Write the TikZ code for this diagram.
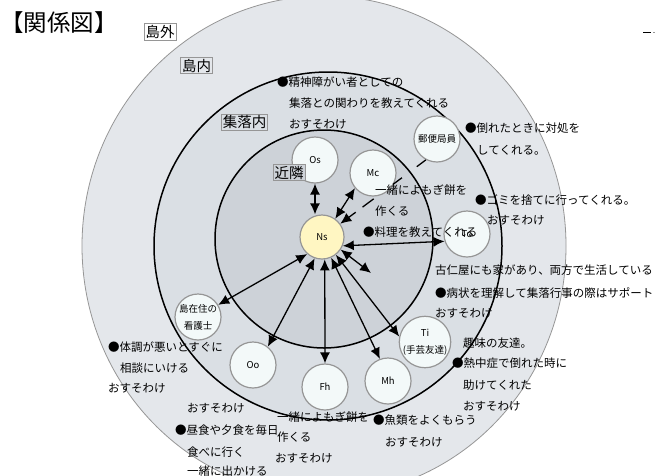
\documentclass[tikz,border=0pt]{standalone}
\usepackage{fontspec}
\setmainfont{Noto Sans CJK JP}
\usetikzlibrary{arrows.meta,calc}
\definecolor{outerc}{RGB}{228,231,235}
\definecolor{midc}{RGB}{218,223,228}
\definecolor{innerc}{RGB}{205,210,216}
\definecolor{nodec}{RGB}{243,249,249}
\definecolor{nsc}{RGB}{255,246,194}
\definecolor{edgec}{RGB}{150,150,150}
\begin{document}
\begin{tikzpicture}[x=1pt,y=-1pt,
  person/.style={circle,draw=edgec,line width=1.2pt,fill=nodec,minimum size=46pt,inner sep=0pt,font=\fontsize{9.5}{17}\selectfont,align=center},
  txt/.style={anchor=west,inner sep=0pt,font=\fontsize{11.5}{14}\selectfont},
  zone/.style={draw=edgec,line width=0.6pt,inner sep=1.5pt,font=\fontsize{14.5}{16}\selectfont},
  rel/.style={line width=1.3pt,{Latex[length=11pt,width=10pt]}-{Latex[length=11pt,width=10pt]}},
  one/.style={line width=1.3pt,-{Latex[length=11pt,width=10pt]}},
  seg/.style={line width=1.3pt}
]
\useasboundingbox (0,0) rectangle (655,475);
\clip (0,0) rectangle (655,475);
\fill[white] (0,0) rectangle (655,475);
% zones
\draw[fill=outerc,draw=edgec,line width=0.8pt] (324,246) ellipse [x radius=242pt, y radius=250pt];
\draw[fill=midc,draw=black,line width=1.5pt] (328,246) circle [radius=174pt];
\draw[fill=innerc,draw=black,line width=1.5pt] (324,239) circle [radius=109pt];
% title
\node[anchor=west,inner sep=0pt,font=\fontsize{23.5}{26}\selectfont] (title) at (0,22.5) {【関係図】};
% people
\node[person,fill=nsc,minimum size=44pt] (ns) at (322,237) {Ns};
\node[person] (os) at (315,160) {Os};
\node[person] (mc) at (373,173) {Mc};
\node[person] (yub) at (437,139) {郵便局員};
\node[person] (to) at (467,234) {To};
\node[person] (kan) at (198,317) {島在住の\\看護士};
\node[person] (oo) at (253,365) {Oo};
\node[person] (fh) at (325,387) {Fh};
\node[person] (mh) at (388,381) {Mh};
\node[person] (ti) at (425,342) {Ti\\(手芸友達)};
\coordinate (free) at (371,273);
% zone labels
\node[zone,fill=white] (zout) at (160,32) {島外};
\node[zone,fill=outerc] (zisl) at (196.5,65.5) {島内};
\node[zone,fill=midc] (zvil) at (244.5,122) {集落内};
\node[zone,fill=innerc] (znb) at (289,172.5) {近隣};
% relations
\draw[rel] (os.south) -- (os.south |- ns.north);
\draw[rel] (mc.220) -- (ns.54);
\draw[rel] (ns.337) -- (to.198);
\draw[rel] (ns.326) -- (free);
\draw[rel] (ns.229) -- (kan.31);
\draw[rel] (ns.251) -- (oo.51);
\draw[rel] (ns.277) -- (fh.north);
\draw[rel] (ns.294) -- (mh.110);
\draw[rel] (ns.308) -- (ti.168);
\draw[seg] (yub.242) -- ($(yub.242)!0.107!(ns.36)$);
\draw[seg] ($(yub.242)!0.28!(ns.36)$) -- ($(yub.242)!0.385!(ns.36)$);
\draw[seg] ($(yub.242)!0.61!(ns.36)$) -- ($(yub.242)!0.74!(ns.36)$);
\draw[one] ($(yub.242)!0.82!(ns.36)$) -- (ns.36);
% texts
\node[txt] (a1) at (277,82) {●精神障がい者としての};
\node[txt] (a2) at (289,103) {集落との関わりを教えてくれる};
\node[txt] (a3) at (289,124) {おすそわけ};
\node[txt] (b1) at (465,128) {●倒れたときに対処を};
\node[txt] (b2) at (477,150) {してくれる。};
\node[txt] (c1) at (375,190) {一緒によもぎ餅を};
\node[txt] (c2) at (375,211) {作くる};
\node[txt] (d1) at (363,232) {●料理を教えてくれる};
\node[txt] (e1) at (475,200) {●ゴミを捨てに行ってくれる。};
\node[txt] (e2) at (487,220) {おすそわけ};
\node[txt] (f1) at (435,270) {古仁屋にも家があり、両方で生活している};
\node[txt] (f2) at (435,293) {●病状を理解して集落行事の際はサポート};
\node[txt] (f3) at (435,313) {おすそわけ};
\node[txt] (g1) at (463,343) {趣味の友達。};
\node[txt] (g2) at (452,363) {●熱中症で倒れた時に};
\node[txt] (g3) at (463,385) {助けてくれた};
\node[txt] (g4) at (463,406) {おすそわけ};
\node[txt] (h1) at (373,420) {●魚類をよくもらう};
\node[txt] (h2) at (385,442) {おすそわけ};
\node[txt] (i1) at (108,347) {●体調が悪いとすぐに};
\node[txt] (i2) at (120,368) {相談にいける};
\node[txt] (i3) at (108,388) {おすそわけ};
\node[txt] (j1) at (187,408) {おすそわけ};
\node[txt] (j2) at (175,430) {●昼食や夕食を毎日};
\node[txt] (j3) at (187,452) {食べに行く};
\node[txt] (j4) at (187,471) {一緒に出かける};
\node[txt] (k1) at (277,417) {一緒によもぎ餅を};
\node[txt] (k2) at (277,437) {作くる};
\node[txt] (k3) at (275,458) {おすそわけ};
% stray mark at top right
\draw[line width=1pt] (643,32) -- (651,32);
\draw[line width=1pt,edgec] (653,32) -- (655,32);
\end{tikzpicture}
\end{document}
